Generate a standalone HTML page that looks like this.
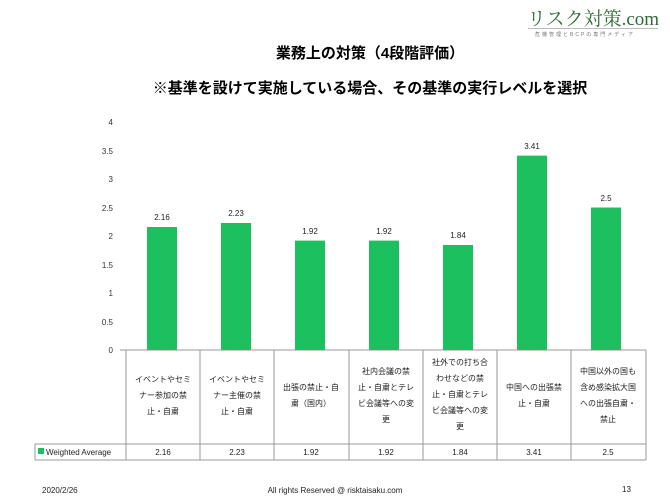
<!DOCTYPE html><html><head><meta charset="utf-8"><style>
body{margin:0;width:670px;height:502px;background:#fff;font-family:"Liberation Sans","Noto Sans CJK JP",sans-serif;position:relative;overflow:hidden}
.a{position:absolute}
</style></head><body>
<div class="a" style="left:527px;top:4px;white-space:nowrap;font-family:'Liberation Serif','Noto Serif CJK SC',serif;font-size:19px;color:#2e6b35">リスク対策.com</div>
<div class="a" style="left:528px;top:28px;width:130px;border-top:1px solid #bbb"></div>
<div class="a" style="left:535px;top:31px;white-space:nowrap;font-size:5px;color:#777;letter-spacing:2px">危機管理とBCPの専門メディア</div>
<div class="a" style="left:0;width:740px;top:42px;text-align:center;font-weight:bold;font-size:15px">業務上の対策（4段階評価）</div>
<div class="a" style="left:0;width:740px;top:77px;text-align:center;font-weight:bold;font-size:15px">※基準を設けて実施している場合、その基準の実行レベルを選択</div>
<svg class="a" style="left:0;top:0" width="670" height="502" font-family="Liberation Sans,Noto Sans CJK JP,sans-serif">
<g font-size="8" text-anchor="end" fill="#333">
<text x="113" y="125">4</text><text x="113" y="154">3.5</text><text x="113" y="182">3</text><text x="113" y="211">2.5</text><text x="113" y="239">2</text><text x="113" y="268">1.5</text><text x="113" y="296">1</text><text x="113" y="325">0.5</text><text x="113" y="353">0</text>
</g>
<line x1="120" y1="350" x2="646" y2="350" stroke="#999"/>
<g fill="#1cc05e">
<rect x="147" y="227" width="30" height="123"/>
<rect x="221" y="223" width="30" height="127"/>
<rect x="295" y="240.6" width="30" height="109.4"/>
<rect x="369" y="240.6" width="30" height="109.4"/>
<rect x="443" y="245" width="30" height="105"/>
<rect x="517" y="155.6" width="30" height="194.4"/>
<rect x="591" y="207.5" width="30" height="142.5"/>
</g>
<g font-size="8" text-anchor="middle" fill="#222">
<text x="162" y="220">2.16</text><text x="236" y="216">2.23</text><text x="310" y="234">1.92</text><text x="384" y="234">1.92</text><text x="458" y="238">1.84</text><text x="532" y="149">3.41</text><text x="606" y="201">2.5</text>
</g>
<g stroke="#999" fill="none">
<line x1="126" y1="350" x2="126" y2="460"/><line x1="200" y1="350" x2="200" y2="460"/><line x1="274" y1="350" x2="274" y2="460"/><line x1="349" y1="350" x2="349" y2="460"/><line x1="423" y1="350" x2="423" y2="460"/><line x1="497" y1="350" x2="497" y2="460"/><line x1="571" y1="350" x2="571" y2="460"/><line x1="646" y1="350" x2="646" y2="460"/>
<line x1="35" y1="444" x2="646" y2="444"/><line x1="35" y1="460" x2="646" y2="460"/><line x1="35" y1="444" x2="35" y2="460"/>
</g>
<g font-size="8" text-anchor="middle" fill="#222">
<text x="163" y="382">イベントやセミ</text><text x="163" y="398">ナー参加の禁</text><text x="163" y="414">止・自粛</text>
<text x="237" y="382">イベントやセミ</text><text x="237" y="398">ナー主催の禁</text><text x="237" y="414">止・自粛</text>
<text x="311" y="390">出張の禁止・自</text><text x="311" y="406">粛（国内）</text>
<text x="386" y="374">社内会議の禁</text><text x="386" y="390">止・自粛とテレ</text><text x="386" y="406">ビ会議等への変</text><text x="386" y="422">更</text>
<text x="460" y="365">社外での打ち合</text><text x="460" y="381">わせなどの禁</text><text x="460" y="397">止・自粛とテレ</text><text x="460" y="413">ビ会議等への変</text><text x="460" y="429">更</text>
<text x="534" y="390">中国への出張禁</text><text x="534" y="406">止・自粛</text>
<text x="608" y="374">中国以外の国も</text><text x="608" y="390">含め感染拡大国</text><text x="608" y="406">への出張自粛・</text><text x="608" y="422">禁止</text>
<text x="163" y="455">2.16</text><text x="237" y="455">2.23</text><text x="311" y="455">1.92</text><text x="386" y="455">1.92</text><text x="460" y="455">1.84</text><text x="534" y="455">3.41</text><text x="608" y="455">2.5</text>
</g>
<rect x="38" y="448" width="6" height="6" fill="#1cc05e"/>
<text x="46" y="455" font-size="8" fill="#222">Weighted Average</text>
<g font-size="8" fill="#222"><text x="42" y="493">2020/2/26</text><text x="335" y="493" text-anchor="middle">All rights Reserved @ risktaisaku.com</text><text x="622" y="492">13</text></g>
</svg>
</body></html>
